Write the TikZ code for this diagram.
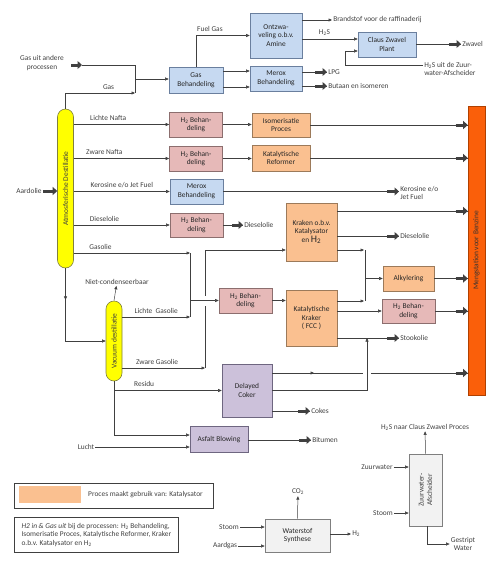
\documentclass[tikz,border=0pt]{standalone}
\usepackage{fontspec}
\setmainfont{Carlito}
\usetikzlibrary{arrows.meta,positioning,decorations.markings}

\definecolor{lijn}{HTML}{404040}
\definecolor{blauwvul}{HTML}{C6D9F1}
\definecolor{blauwrand}{HTML}{6A7F9E}
\definecolor{rozevul}{HTML}{E6B9B8}
\definecolor{rozerand}{HTML}{8C6E6E}
\definecolor{oranjevul}{HTML}{FAC090}
\definecolor{oranjerand}{HTML}{9C7A5A}
\definecolor{paarsvul}{HTML}{CCC1DA}
\definecolor{paarsrand}{HTML}{6E6680}
\definecolor{grijsvul}{HTML}{F2F2F2}
\definecolor{grijsrand}{HTML}{7F7F7F}
\definecolor{mengvul}{HTML}{FA5F0A}
\definecolor{mengrand}{HTML}{B04000}
\definecolor{geel}{HTML}{FFFF00}
\definecolor{olijf}{HTML}{808040}

\begin{document}
\begin{tikzpicture}[x=1pt,y=-1pt,color=lijn,line width=0.5pt,
    >={Triangle[length=3.5pt,width=3pt]},
    every node/.style={font=\fontsize{7.4}{8.6}\selectfont}]
       \tikzset{proces/.style={rectangle, draw, line width=0.6pt, align=center, inner sep=1pt,
                text=black!85, minimum width=53, minimum height=25}}
       \tikzset{blauw/.style={proces, fill=blauwvul, draw=blauwrand}}
       \tikzset{roze/.style={proces, fill=rozevul, draw=rozerand}}
       \tikzset{oranje/.style={proces, fill=oranjevul, draw=oranjerand}}
       \tikzset{paars/.style={proces, fill=paarsvul, draw=paarsrand}}
       \tikzset{grijs/.style={proces, fill=grijsvul, draw=grijsrand}}
       \tikzset{kolom/.style={rectangle, rounded corners=8pt, draw=olijf, fill=geel,
                line width=0.6pt, minimum width=16}}
       \tikzset{tekst/.style={inner sep=1pt, align=left}}
       \tikzset{dik/.style={line width=3pt, -{Triangle[length=4.5pt,width=8pt]}}}
       \tikzset{midpijl/.style={postaction={decorate},
                decoration={markings, mark=at position #1 with {\arrow{>}}}}}

       \useasboundingbox (0,0) rectangle (500,566);

        % gas
        \node[tekst, align=center] (gasuit) at (42,63) {Gas uit andere\\processen};
        \node[blauw, minimum width=54, minimum height=26] (gasbeh) at (196,80) {Gas\\Behandeling};
        \node[blauw, minimum width=52, minimum height=45] (ontzw) at (276,35.5) {Ontzwa-\\veling o.b.v.\\Amine};
        \node[blauw, minimum width=58] (claus) at (387,44.5) {Claus Zwavel\\Plant};
        \node[blauw, minimum width=52] (merox1) at (276,78.5) {Merox\\Behandeling};
        \node[tekst, anchor=west] (brandstof) at (332,20) {Brandstof voor de raffinaderij};
        \node[tekst, anchor=west] (zwavel) at (461,44) {Zwavel};
        \node[tekst, anchor=west] (h2suit) at (423,69) {H\textsubscript{2}S uit de Zuur-\\water-Afscheider};
        \node[tekst, anchor=west] (lpg) at (327,72) {LPG};
        \node[tekst, anchor=west] (butaan) at (327,86) {Butaan en isomeren};
        \coordinate (gasin) at (82,65);
        \coordinate (gasmix) at (135,79);
        \coordinate (gaseind) at (135,93);
        \coordinate (h2sknik) at (345,65);

        % kolommen
        \node[kolom, minimum height=159] (atm) at (65.5,188.5) {};
        \node[rotate=90] (atmtekst) at (atm) {Atmosferische Destillatie};
        \node[kolom, minimum height=80] (vac) at (114,341) {};
        \node[rotate=90] (vactekst) at (vac) {Vacuum destillatie};
        \node[tekst] (aardolie) at (29,191) {Aardolie};
        \node[tekst] (niet) at (117,282) {Niet-condenseerbaar};

        % stromen
        \node[roze] (h2a) at (196,124.5) {H\textsubscript{2} Behan-\\deling};
        \node[oranje, minimum width=58, minimum height=24] (isom) at (281,125) {Isomerisatie\\Proces};
        \node[roze] (h2b) at (196,158.5) {H\textsubscript{2} Behan-\\deling};
        \node[oranje, minimum width=58, minimum height=26] (reform) at (281,158) {Katalytische\\Reformer};
        \node[blauw] (merox2) at (196.5,191.5) {Merox\\Behandeling};
        \node[roze, minimum height=24] (h2c) at (196.5,225) {H\textsubscript{2} Behan-\\deling};
        \node[tekst, anchor=west] (diesel1) at (243,225) {Dieselolie};
        \node[tekst, anchor=west] (kerosine) at (399,193) {Kerosine e/o\\Jet Fuel};
        \node[oranje, minimum width=51, minimum height=58] (kraken) at (311.5,232)
             {Kraken o.b.v.\\Katalysator\\en {\fontsize{10}{10}\selectfont H\textsubscript{2}}};
        \node[tekst, anchor=west] (diesel2) at (399,236) {Dieselolie};
        \node[oranje, minimum width=51, minimum height=56] (fcc) at (311.5,318) {Katalytische\\Kraker\\( FCC )};
        \node[oranje, minimum width=51] (alky) at (408.5,278.5) {Alkylering};
        \node[roze, minimum height=24] (h2d) at (408.5,311) {H\textsubscript{2} Behan-\\deling};
        \node[roze] (h2e) at (245.5,300.5) {H\textsubscript{2} Behan-\\deling};
        \node[tekst, anchor=west] (stook) at (399,338) {Stookolie};
        \node[rectangle, draw=mengrand, fill=mengvul, line width=0.6pt, minimum width=17,
              minimum height=289] (meng) at (476.5,250.5) {};
        \node[rotate=90, text=black!80] (mengtekst) at (meng) {Mengstation voor Benzine};
        \node[paars, minimum width=50, minimum height=53] (coker) at (247,390.5) {Delayed\\Coker};
        \node[tekst, anchor=west] (cokes) at (310,411) {Cokes};
        \node[paars, minimum width=58, minimum height=26] (asfalt) at (219,439.5) {Asfalt Blowing};
        \node[tekst, anchor=west] (bitumen) at (311,440) {Bitumen};
        \node[tekst] (lucht) at (86,447) {Lucht};
        \coordinate (j1) at (190,253);
        \coordinate (j2) at (190,317);
        \coordinate (k1) at (205,250);
        \coordinate (k2) at (205,368);
        \coordinate (a1) at (365,250);
        \coordinate (a2) at (365,301);
        \coordinate (sprong) at (367,373);

        % legenda
        \node[draw, line width=0.7pt, minimum width=199, minimum height=25] (legenda1) at (113.5,495.5) {};
        \fill[oranjevul] (19,486) rectangle (81,503);
        \node[tekst, anchor=west] (legtekst1) at (87,495) {Proces maakt gebruik van: Katalysator};
        \node[draw, line width=0.7pt, anchor=north west, align=left, minimum width=164, minimum height=35]
             (legenda2) at (14,517) {{\itshape H2 in \& Gas uit} bij de processen: H\textsubscript{2} Behandeling,\\
             Isomerisatie Proces, Katalytische Reformer, Kraker\\o.b.v. Katalysator en H\textsubscript{2}};

        % waterstof en zuurwater
        \node[grijs, minimum width=65, minimum height=33] (wsyn) at (297.5,535.5) {Waterstof\\Synthese};
        \node[tekst] (co2) at (298,492) {CO\textsubscript{2}};
        \node[tekst] (stoom1) at (229,527) {Stoom};
        \node[tekst] (aardgas) at (225,546) {Aardgas};
        \node[tekst, anchor=west] (h2uit) at (351,534) {H\textsubscript{2}};
        \node[grijs, minimum width=33, minimum height=72] (zuur) at (425.5,490) {};
        \node[rotate=90, align=center] (zuurtekst) at (zuur) {Zuurwater-\\Afscheider};
        \node[tekst] (h2snaar) at (425,427) {H\textsubscript{2}S naar Claus Zwavel Proces};
        \node[tekst] (zuurwater) at (377,467) {Zuurwater};
        \node[tekst] (stoom2) at (383,513) {Stoom};
        \node[tekst, align=center] (gestript) at (463,544) {Gestript\\Water};

        % gas
        \draw[dik] ([xshift=-11]gasin) -- (gasin);
        \draw (gasin) -| (gaseind);
        \draw[->] (atm.north) |- (gaseind) node[above, pos=0.81]{Gas};
        \draw[->] (gasmix) -- (gasbeh.west |- gasmix);
        \draw[->] (gasbeh.north) |- (ontzw) node[above, pos=0.63]{Fuel Gas};
        \draw[->] (ontzw.east |- brandstof) -- (brandstof.west);
        \draw[->] ([yshift=-3.5]ontzw.east) -- ([yshift=-3.5]ontzw.east -| claus.west)
              node[above, pos=0.4]{H\textsubscript{2}S};
        \draw (claus.east |- zwavel) -- (zwavel.west);
        \draw[dik] ([xshift=-12]zwavel.west) -- (zwavel.west);
        \draw[->] ([yshift=4]h2suit.west) -- (h2sknik) |- ([yshift=-6.5]claus.west);
        \draw[->] ([yshift=9]gasbeh.east) -- ([yshift=9]gasbeh.east -| merox1.west);
        \draw[->] ([yshift=-7]gasbeh.east) -- ([yshift=-7]gasbeh.east -| merox1.west);
        \draw (merox1.east |- lpg) -- (lpg.west);
        \draw[dik] ([xshift=-12]lpg.west) -- (lpg.west);
        \draw (merox1.east |- butaan) -- (butaan.west);
        \draw[dik] ([xshift=-12]butaan.west) -- (butaan.west);

        % atmosferische destillatie
        \draw[dik] (aardolie.east) -- (atm.west |- aardolie);
        \draw[->] (atm.east |- h2a) -- (h2a) node[above, pos=0.36]{Lichte Nafta};
        \draw[->] (h2a) -- (h2a -| isom.west);
        \draw (isom) -- (isom -| meng.west);
        \draw[dik] ([xshift=-12]isom -| meng.west) -- (isom -| meng.west);
        \draw[->] (atm.east |- h2b) -- (h2b) node[above, pos=0.32]{Zware Nafta};
        \draw[->] (h2b) -- (h2b -| reform.west);
        \draw (reform) -- (reform -| meng.west);
        \draw[dik] ([xshift=-12]reform -| meng.west) -- (reform -| meng.west);
        \draw[->] (atm.east |- merox2) -- (merox2) node[above, pos=0.5]{Kerosine e/o Jet Fuel};
        \draw (merox2.east) -- (merox2.east -| kerosine.west);
        \draw[dik] ([xshift=-12]merox2.east -| kerosine.west) -- (merox2.east -| kerosine.west);
        \draw[->] (atm.east |- h2c) -- (h2c) node[above, pos=0.32]{Dieselolie};
        \draw (h2c.east |- diesel1) -- (diesel1.west);
        \draw[dik] ([xshift=-11]diesel1.west) -- (diesel1.west);
        \draw[->] (atm.east |- j1) -- (j1) node[above, pos=0.23]{Gasolie};
        \draw (j1) -- (j2);
        \draw[->,midpijl=0.28] (atm.south) |- (vac.west);

        % vacuum destillatie
        \draw[->] (vac.north) -- (niet);
        \draw[->] (vac.east |- j2) -- (j2) node[above, midway]{Lichte\ \ Gasolie};
        \draw[->] (vac.east |- k2) -- (k2) node[above, pos=0.42]{Zware Gasolie};
        \draw (k2) -- ([yshift=-5]k1 |- h2e);
        \draw ([yshift=5]k1 |- h2e) -- (k1);
        \draw[->] (j1 |- h2e) -- (h2e);
        \draw[->] (h2e) -- (fcc.west |- h2e);
        \draw[->] (k1) -- (kraken.west |- k1);
        \draw[->] (vac.south |- coker) -- (coker) node[above, pos=0.28]{Residu};
        \draw[->] (vac.south) |- ([yshift=4.5]asfalt.west);
        \draw[->] (lucht) -- (asfalt.west |- lucht);

        % kraken en fcc
        \draw ([yshift=21]kraken.east) -- ([yshift=21]kraken.east -| meng.west);
        \draw[dik] ([yshift=21,xshift=-12]kraken.east -| meng.west) -- ([yshift=21]kraken.east -| meng.west);
        \draw (kraken.east |- diesel2) -- (diesel2.west);
        \draw[dik] ([xshift=-12]diesel2.west) -- (diesel2.west);
        \draw[->] (kraken.east |- a1) -- ([xshift=-1]a1);
        \draw[->] (fcc.east |- a2) -- ([xshift=-1]a2);
        \draw (a1) -- (a2);
        \draw[->] (a1 |- alky) -- (alky);
        \draw (alky) -- (alky -| meng.west);
        \draw[dik] ([xshift=-12]alky -| meng.west) -- (alky -| meng.west);
        \draw[->] (fcc.east |- h2d) -- (h2d);
        \draw (h2d) -- (h2d -| meng.west);
        \draw[dik] ([xshift=-12]h2d -| meng.west) -- (h2d -| meng.west);
        \draw (fcc.east |- stook) -- (stook.west);
        \draw[dik] ([xshift=-12]stook.west) -- (stook.west);

        % coker en asfalt
        \draw[midpijl=0.46] ([yshift=17.5]coker.east) -- ([xshift=-4]sprong);
        \draw ([xshift=4]sprong) -- (sprong -| meng.west);
        \draw[dik] ([xshift=-12]sprong -| meng.west) -- (sprong -| meng.west);
        \draw[->] (coker.east) -| (sprong |- stook.west);
        \draw (coker.east |- cokes) -- (cokes.west);
        \draw[dik] ([xshift=-12]cokes.west) -- (cokes.west);
        \draw (asfalt.east |- bitumen) -- (bitumen.west);
        \draw[dik] ([xshift=-12]bitumen.west) -- (bitumen.west);

        % waterstof en zuurwater
        \draw[->] (wsyn.north) -- (co2);
        \draw[->] (stoom1) -- (wsyn.west |- stoom1);
        \draw[->] (aardgas) -- (wsyn.west |- aardgas);
        \draw[->] (wsyn.east |- h2uit) -- (h2uit.west);
        \draw[->] (zuur.north) -- (h2snaar);
        \draw[->] (zuurwater) -- (zuur.west |- zuurwater);
        \draw[->] (stoom2) -- (zuur.west |- stoom2);
        \draw[->] ([xshift=1.5]zuur.south) |- (gestript.west);
   \end{tikzpicture}
\end{document}
